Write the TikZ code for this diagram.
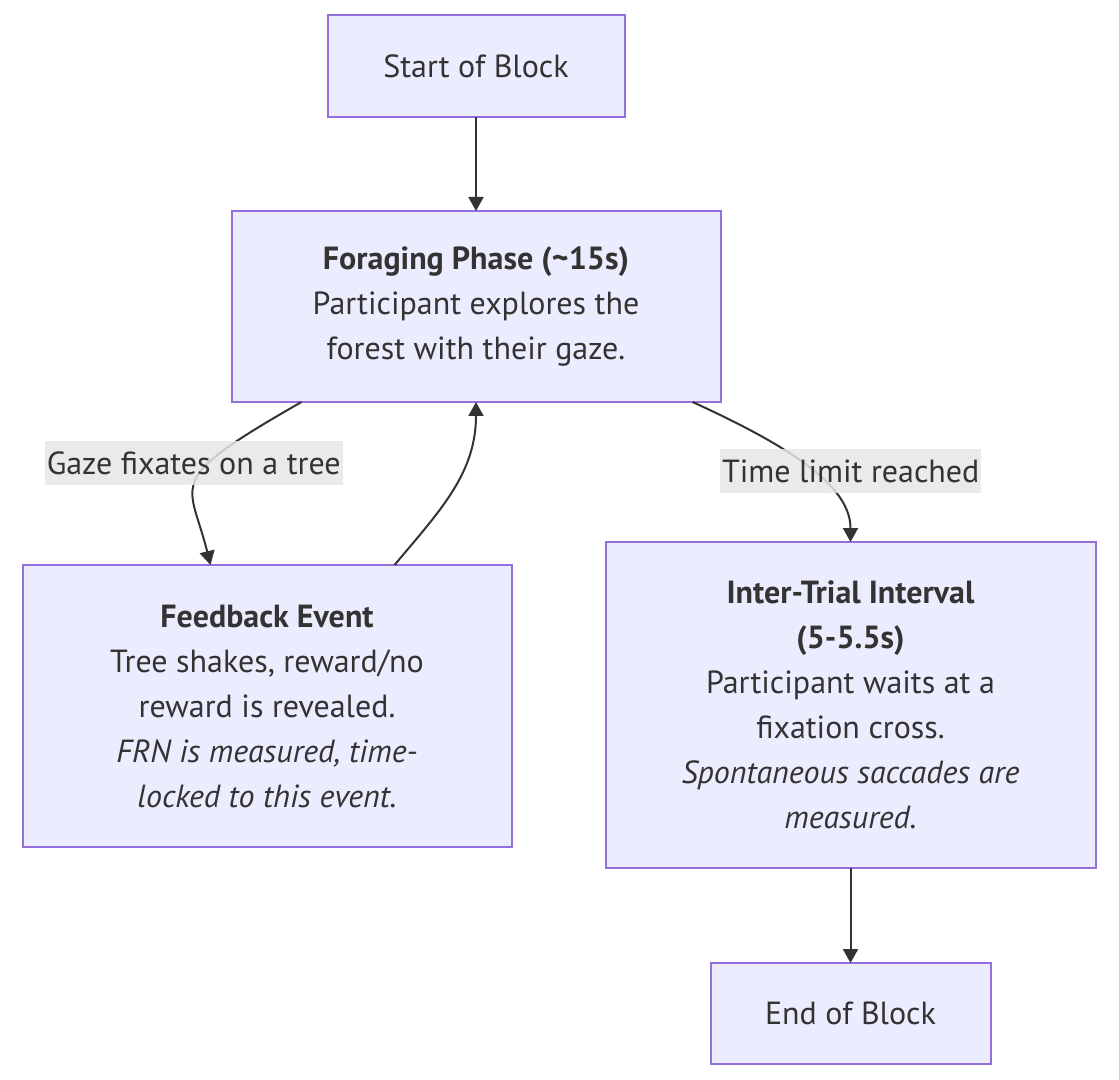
\documentclass[tikz,border=0pt]{standalone}
\usepackage{fontspec}
\setmainfont{PT Sans}
\usetikzlibrary{positioning,arrows.meta}
\definecolor{boxfill}{HTML}{ECECFF}
\definecolor{boxline}{HTML}{9370DB}
\definecolor{ink}{HTML}{333333}
\definecolor{labelbg}{HTML}{E6E6E6}

\tikzset{
  phase/.style={draw=boxline, fill=boxfill, line width=1pt, text=ink, align=center,
    font=\fontsize{16pt}{22.5pt}\selectfont, inner sep=0pt, outer sep=0pt},
  edgelabel/.style={fill=labelbg, fill opacity=0.85, text opacity=1, text=ink,
    font=\fontsize{16pt}{22.5pt}\selectfont, inner xsep=1pt, inner ysep=0pt, minimum height=22pt}
}

\begin{document}
\begin{tikzpicture}[>={Triangle[length=7pt,width=7.5pt]}, line width=1pt]
            \useasboundingbox (0,0) rectangle (559.5pt,-540pt);
            \node (start) [phase, minimum width=148.5pt, minimum height=51pt] at (238pt,-33pt) {Start of Block};
            \node (forage) [phase, minimum width=244.5pt, minimum height=95.5pt, below=47pt of start]
                {\textbf{Foraging Phase (\textasciitilde15s)}\\Participant explores the\\forest with their gaze.};
            \node (feedback) [phase, minimum width=244.5pt, minimum height=141pt, below=81.5pt of forage, xshift=-104.5pt]
                {\textbf{Feedback Event}\\Tree shakes, reward/no\\reward is revealed.\\\textit{FRN is measured, time-}\\\textit{locked to this event.}};
            \node (iti) [phase, minimum width=245pt, minimum height=163pt, below=70pt of forage, xshift=187.25pt]
                {\textbf{Inter-Trial Interval}\\\textbf{(5-5.5s)}\\Participant waits at a\\fixation cross.\\\textit{Spontaneous saccades are}\\\textit{measured.}};
            \node (blockend) [phase, minimum width=140pt, minimum height=50.5pt, below=47.5pt of iti] {End of Block};

            \draw[->, ink] (start) -- (forage);
            \draw[->, ink] ([xshift=-87.25pt]forage.south) .. controls +(-70pt,-40pt) and +(-10.5pt,42.5pt) ..
                node[edgelabel, pos=0.35, xshift=-7.5pt] {Gaze fixates on a tree} ([xshift=-28.25pt]feedback.north);
            \draw[->, ink] ([xshift=63.75pt]feedback.north) to[out=50, in=-90] (forage.south);
            \draw[->, ink] ([xshift=108.25pt]forage.south) .. controls +(55pt,-25pt) and +(0pt,26pt) ..
                node[edgelabel, pos=0.5, xshift=19pt] {Time limit reached} (iti.north);
            \draw[->, ink] (iti) -- (blockend);
        \end{tikzpicture}
\end{document}
